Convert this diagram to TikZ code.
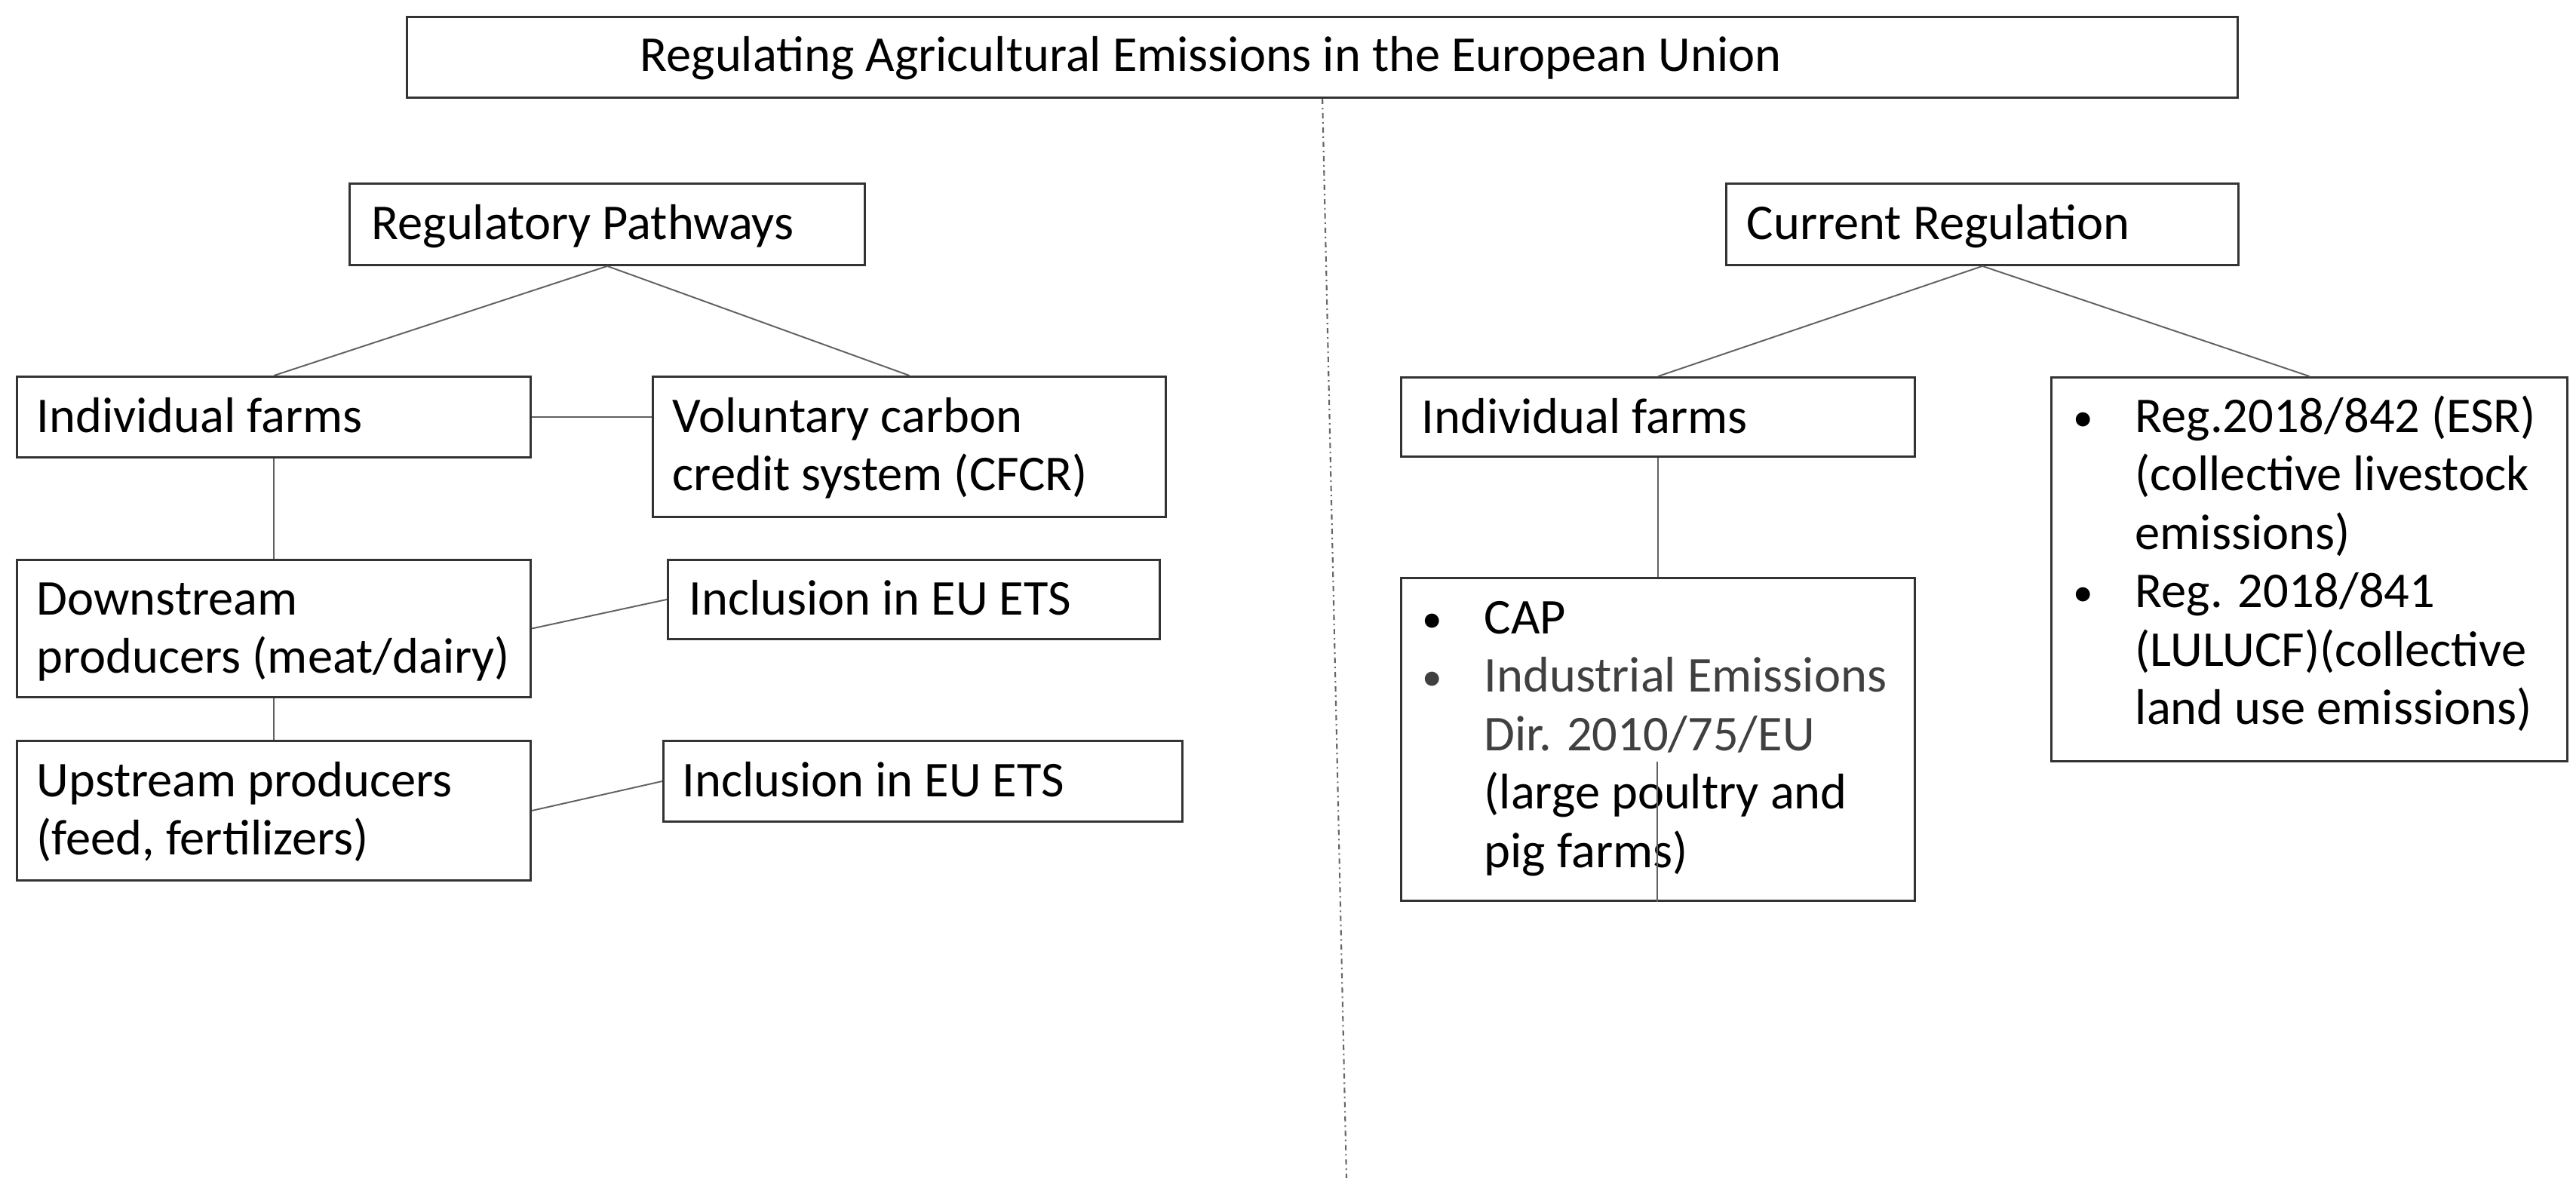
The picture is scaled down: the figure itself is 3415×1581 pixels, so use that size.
\documentclass[tikz,border=0pt]{standalone}
\usepackage{fontspec}
\setmainfont{Carlito}
\usetikzlibrary{calc}
\newcommand{\ml}[1]{\begin{tabular}[t]{@{}l@{}}#1\end{tabular}}
\newcommand{\bul}{\makebox[0.87cm][l]{\hspace{0.05cm}\raisebox{0.02cm}{\scalebox{0.8}{•}}}}
\newcommand{\ind}{\hspace{0.87cm}}
\colorlet{gtext}{black!75}
\tikzset{
  box/.style={draw=black!80, line width=0.8pt, anchor=north west, inner sep=0pt},
  txt/.style={anchor=base west, inner sep=0pt, font=\fontsize{18.9pt}{22.05pt}\selectfont},
  link/.style={draw=black!62, line width=0.55pt},
  divider/.style={draw=black!60, line width=0.6pt, dash pattern=on 0.07cm off 0.05cm on 0.02cm off 0.05cm}
}
\begin{document}
\begin{tikzpicture}[x=0.01cm,y=-0.01cm]
\useasboundingbox[fill=white] (0,0) rectangle (3415,1581);

% boxes
\node[box, minimum width=24.26cm, minimum height=1.07cm] (title) at (538,21) {};
\node[box, minimum width=6.83cm, minimum height=1.08cm] (rp) at (462,242) {};
\node[box, minimum width=6.79cm, minimum height=1.08cm] (cr) at (2287,242) {};
\node[box, minimum width=6.81cm, minimum height=1.07cm] (ifL) at (21,498) {};
\node[box, minimum width=6.80cm, minimum height=1.86cm] (vol) at (864,498) {};
\node[box, minimum width=6.81cm, minimum height=1.82cm] (down) at (21,741) {};
\node[box, minimum width=6.52cm, minimum height=1.05cm] (inc1) at (884,741) {};
\node[box, minimum width=6.81cm, minimum height=1.85cm] (up) at (21,981) {};
\node[box, minimum width=6.88cm, minimum height=1.07cm] (inc2) at (878,981) {};
\node[box, minimum width=6.81cm, minimum height=1.05cm] (ifR) at (1856,499) {};
\node[box, minimum width=6.81cm, minimum height=4.28cm] (cap) at (1856,765) {};
\node[box, minimum width=6.84cm, minimum height=5.09cm] (reg) at (2718,499) {};

% texts
\node[txt] (title-t) at (848,94) {Regulating Agricultural Emissions in the European Union};
\node[txt] (rp-t) at (492,317) {Regulatory Pathways};
\node[txt] (cr-t) at (2315,317) {Current Regulation};
\node[txt] (ifL-t) at (48,573) {Individual farms};
\node[txt] (vol-t) at (891,573) {\ml{Voluntary carbon\\credit system (CFCR)}};
\node[txt] (down-t) at (48,815) {\ml{Downstream\\producers (meat/dairy)}};
\node[txt] (inc1-t) at (913,815) {Inclusion in EU ETS};
\node[txt] (up-t) at (48,1056) {\ml{Upstream producers\\(feed, fertilizers)}};
\node[txt] (inc2-t) at (904,1056) {Inclusion in EU ETS};
\node[txt] (ifR-t) at (1884,574) {Individual farms};
\node[txt] (cap-t) at (1880,840) {\ml{\bul CAP\\
  \textcolor{gtext}{\bul Industrial Emissions}\\
  \textcolor{gtext}{\ind Dir. 2010/75/EU}\\
  \ind (large poultry and\\
  \ind pig farms)}};
\node[txt] (reg-t) at (2743,573) {\ml{\bul Reg.2018/842 (ESR)\\
  \ind (collective livestock\\
  \ind emissions)\\
  \bul Reg. 2018/841\\
  \ind (LULUCF)(collective\\
  \ind land use emissions)}};

% connectors
\draw[link] (rp.south) -- (ifL.north);
\draw[link] (rp.south) -- (vol.north);
\draw[link] (cr.south) -- (ifR.north);
\draw[link] (cr.south) -- (reg.north);
\draw[link] (ifL.east) -- (ifL.east -| vol.west);
\draw[link] (ifL.south) -- (down.north);
\draw[link] (down.east) -- (inc1.west);
\draw[link] (down.south) -- (up.north);
\draw[link] (up.east) -- (inc2.west);
\draw[link] (ifR.south) -- (cap.north);
\coordinate (capin) at (2197,1010);
\draw[link] (capin) -- (capin |- cap.south);

% divider
\coordinate (dend) at (1785,1562);
\draw[divider] (title.south) -- (dend);
\end{tikzpicture}
\end{document}
